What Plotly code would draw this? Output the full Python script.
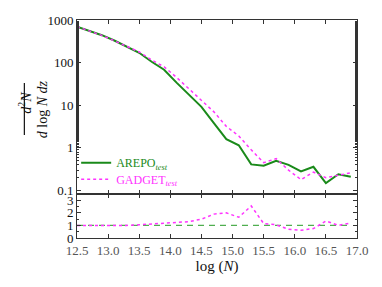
import plotly.graph_objects as go
from plotly.subplots import make_subplots

log_n = [12.5, 12.7, 12.9, 13.1, 13.3, 13.5, 13.7, 13.9, 14.1, 14.3, 14.5, 14.7,
         14.9, 15.1, 15.3, 15.5, 15.7, 15.9, 16.1, 16.3, 16.5, 16.7, 16.9]
arepo = [700, 560, 440, 330, 240, 170, 105, 68, 34, 18, 9.2, 3.8,
         1.6, 1.15, 0.41, 0.38, 0.5, 0.4, 0.28, 0.36, 0.15, 0.24, 0.21]
gadget = [700, 560, 435, 325, 240, 178, 115, 80, 45, 24, 13.5, 7,
          3.2, 1.9, 0.9, 0.45, 0.56, 0.3, 0.18, 0.27, 0.2, 0.23, 0.26]
ratio_arepo = [1.0] * len(log_n)
ratio_gadget = [1.0, 1.0, 0.98, 0.98, 1.0, 1.05, 1.1, 1.18, 1.25, 1.3, 1.5, 1.9,
                2.0, 1.65, 2.55, 1.15, 1.05, 0.7, 0.62, 0.75, 1.35, 1.0, 1.2]
y_tick_vals = [0.1, 1, 10, 100, 1000]
y_tick_text = ["0.1", "1", "10", "100", "1000"]
x_tick_vals = [12.5, 13.0, 13.5, 14.0, 14.5, 15.0, 15.5, 16.0, 16.5, 17.0]
x_tick_text = ["12.5", "13.0", "13.5", "14.0", "14.5", "15.0", "15.5", "16.0", "16.5", "17.0"]
r_tick_vals = [0, 1, 2, 3]

GREEN = "#1a8a1a"
MAG = "#ff33ff"
FONT = "Liberation Serif"
AX = "#333333"

fig = make_subplots(rows=2, cols=1, shared_xaxes=False, vertical_spacing=0,
                    row_heights=[0.7982, 0.2018])

fig.add_trace(go.Scatter(x=log_n, y=arepo, mode="lines",
                         line=dict(color=GREEN, width=2), legend="legend",
                         name='<span style="color:#1a8a1a">AREPO<sub><i>test</i></sub></span>'),
              row=1, col=1)
fig.add_trace(go.Scatter(x=log_n, y=gadget, mode="lines",
                         line=dict(color=MAG, width=1.5, dash="dot"), legend="legend2",
                         name='<span style="color:#ff33ff">GADGET<sub><i>test</i></sub></span>'),
              row=1, col=1)
fig.add_trace(go.Scatter(x=log_n, y=ratio_arepo, mode="lines",
                         line=dict(color="#4fae4f", width=1.3, dash="6px,5px"),
                         showlegend=False), row=2, col=1)
fig.add_trace(go.Scatter(x=log_n, y=ratio_gadget, mode="lines",
                         line=dict(color=MAG, width=1.5, dash="dot"),
                         showlegend=False), row=2, col=1)

common_x = dict(range=[12.5, 17.0], showgrid=False, zeroline=False, showline=True,
                linecolor=AX, linewidth=1, mirror="ticks", ticks="inside",
                ticklen=4, tickcolor=AX, tickvals=x_tick_vals, automargin=False)
fig.update_xaxes(common_x, showticklabels=False, row=1, col=1)
fig.update_xaxes(common_x, ticktext=x_tick_text, showticklabels=True,
                 tickfont=dict(family=FONT, size=13, color="#555555"),
                 title=dict(text="log (<i>N</i>)", font=dict(family=FONT, size=15, color="#111111"),
                            standoff=2),
                 row=2, col=1)

fig.update_yaxes(type="log", range=[-1.082, 3], showgrid=False, zeroline=False,
                 showline=True, linecolor=AX, linewidth=1, mirror="ticks",
                 ticks="inside", ticklen=4, tickcolor=AX, automargin=False,
                 tickvals=y_tick_vals, ticktext=y_tick_text,
                 tickfont=dict(family=FONT, size=13, color="#111111"),
                 minor=dict(ticks="inside", ticklen=2, tickcolor=AX, showgrid=False),
                 row=1, col=1)
fig.update_yaxes(range=[0, 3.5], showgrid=False, zeroline=False,
                 showline=True, linecolor=AX, linewidth=1, mirror="ticks",
                 ticks="inside", ticklen=4, tickcolor=AX, automargin=False,
                 tickvals=r_tick_vals,
                 tickfont=dict(family=FONT, size=13, color="#111111"),
                 minor=dict(ticks="inside", ticklen=2, tickcolor=AX, dtick=0.5, showgrid=False),
                 row=2, col=1)

# y-axis label as a stacked fraction
fig.add_annotation(text="<i>d</i><sup>2</sup><i>N</i>", xref="paper", yref="paper",
                   x=-0.226, y=0.619, showarrow=False, textangle=-90,
                   font=dict(family=FONT, size=14, color="#111111"))
fig.add_annotation(text="<i>d</i> log <i>N dz</i>", xref="paper", yref="paper",
                   x=-0.156, y=0.59, showarrow=False, textangle=-90,
                   font=dict(family=FONT, size=14, color="#111111"))
fig.add_shape(type="line", xref="paper", yref="paper",
              x0=-0.188, x1=-0.188, y0=0.711, y1=0.472,
              line=dict(color="#111111", width=1.2))

legend_common = dict(xanchor="left", yanchor="middle", bgcolor="rgba(0,0,0,0)",
                     itemwidth=30, font=dict(family=FONT, size=12))

# The page body adds an 8px offset, so the figure is sized to fill the rest of the window
fig.update_layout(
    width=374, height=279,
    margin=dict(l=69, r=25, t=12, b=49),
    plot_bgcolor="white", paper_bgcolor="white",
    font=dict(family=FONT, size=13, color="#111111"),
    legend=dict(legend_common, x=-0.003, y=0.345),
    legend2=dict(legend_common, x=-0.003, y=0.27),
)

fig.write_html("out.html")
